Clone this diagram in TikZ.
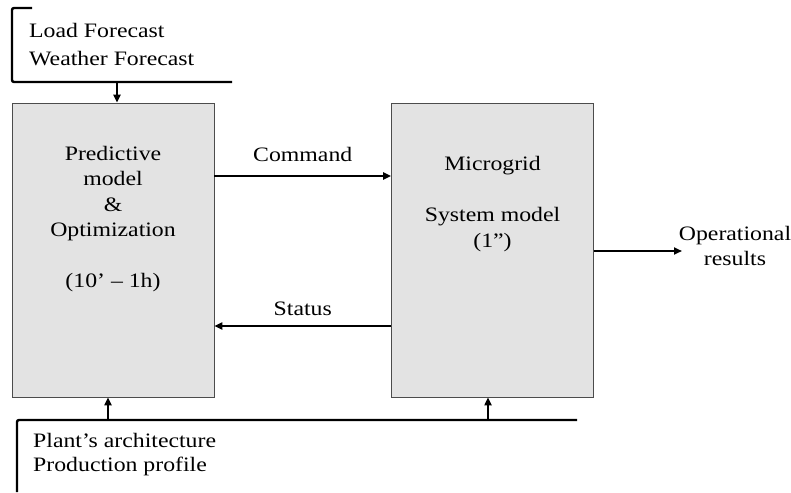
\documentclass[tikz,border=0pt]{standalone}
\usepackage{fontspec}
\setmainfont{Liberation Serif}[FakeStretch=1.16]
\usetikzlibrary{arrows.meta,positioning}
\tikzset{
	blk/.style={draw=black!70,fill=black!11,line width=0.8pt,minimum width=202pt,minimum height=294pt,inner sep=0pt},
	arr/.style={line width=2pt,-{Triangle[length=8pt,width=7pt]}},
	brk/.style={line width=2.4pt,rounded corners=2pt},
	txt/.style={font=\fontsize{20.5}{25.5}\selectfont,inner sep=0pt}
}
\begin{document}
\begin{tikzpicture}[x=1pt,y=-1pt]
	\useasboundingbox(0,0)rectangle(791,492);
	\node[blk](pred)at(113,250){};
	\node[blk](micro)at(492.5,250){};
	\node[txt,align=center](predtxt)at(113,219){Predictive\\model\\\&\\Optimization\\[25.5pt](10’ – 1h)};
	\node[txt,align=center](microtxt)at(492.5,204){Microgrid\\[25.5pt]System model\\(1”)};
	% inputs
	\coordinate(t1)at(32,8);\coordinate(t2)at(12,8);
	\coordinate(t3)at(12,82);\coordinate(t4)at(232,82);
	\draw[brk](t1)--(t2)--(t3)--(t4);
	\node[txt,anchor=west](load)at(29,30){Load Forecast};
	\node[txt,anchor=west](weather)at(29,59){Weather Forecast};
	\coordinate(b1)at(17,492);\coordinate(b2)at(17,420);\coordinate(b3)at(577,420);
	\draw[brk](b1)--(b2)--(b3);
	\node[txt,anchor=west](plant)at(33,440){Plant’s architecture};
	\node[txt,anchor=west](prod)at(33,466){Production profile};
	% arrows
	\draw[arr](pred.north-|117,82)++(0,-20)--(pred.north-|117,0);
	\draw[arr](108,420)--(pred.south-|108,0);
	\draw[arr](488,420)--(micro.south-|488,0);
	\draw[arr](pred.east|-0,176)--(micro.west|-0,176)node[txt,midway,above=13pt]{Command};
	\draw[arr](micro.west|-0,326)--(pred.east|-0,326)node[txt,midway,above=9pt]{Status};
	\draw[arr](micro.east|-0,251)--(682,251);
	\node[txt,align=center](oper)at(735,246){Operational\\results};
\end{tikzpicture}
\end{document}
